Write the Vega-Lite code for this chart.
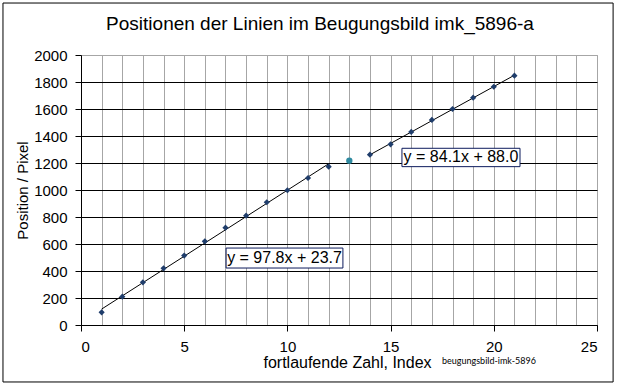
{
  "$schema": "https://vega.github.io/schema/vega-lite/v6.json",
  "width": 516,
  "height": 270,
  "autosize": "none",
  "padding": {"left": 81, "top": 55, "right": 20, "bottom": 62},
  "background": "white",
  "title": {
    "text": "Positionen der Linien im Beugungsbild imk_5896-a",
    "font": "Liberation Sans",
    "fontSize": 19,
    "fontWeight": "normal",
    "color": "black",
    "anchor": "middle",
    "frame": "group",
    "baseline": "alphabetic",
    "dx": -19,
    "offset": -46
  },
  "data": {
    "values": [
      {"idx": 1, "pos": 94, "series": "a"},
      {"idx": 2, "pos": 210, "series": "a"},
      {"idx": 3, "pos": 316, "series": "a"},
      {"idx": 4, "pos": 420, "series": "a"},
      {"idx": 5, "pos": 514, "series": "a"},
      {"idx": 6, "pos": 620, "series": "a"},
      {"idx": 7, "pos": 721, "series": "a"},
      {"idx": 8, "pos": 810, "series": "a"},
      {"idx": 9, "pos": 909, "series": "a"},
      {"idx": 10, "pos": 998, "series": "a"},
      {"idx": 11, "pos": 1089, "series": "a"},
      {"idx": 12, "pos": 1173, "series": "a"},
      {"idx": 13, "pos": 1217, "series": "m"},
      {"idx": 14, "pos": 1262, "series": "b"},
      {"idx": 15, "pos": 1338, "series": "b"},
      {"idx": 16, "pos": 1430, "series": "b"},
      {"idx": 17, "pos": 1519, "series": "b"},
      {"idx": 18, "pos": 1600, "series": "b"},
      {"idx": 19, "pos": 1684, "series": "b"},
      {"idx": 20, "pos": 1765, "series": "b"},
      {"idx": 21, "pos": 1847, "series": "b"}
    ]
  },
  "encoding": {
    "x": {
      "field": "idx",
      "type": "quantitative",
      "scale": {"domain": [0, 25], "nice": false, "zero": false},
      "axis": {
        "title": "fortlaufende Zahl, Index",
        "values": [0,1,2,3,4,5,6,7,8,9,10,11,12,13,14,15,16,17,18,19,20,21,22,23,24,25],
        "labelExpr": "datum.value % 5 === 0 ? datum.label : ''",
        "tickColor": {"condition": {"test": "datum.value % 5 === 0", "value": "black"}, "value": "transparent"},
        "grid": true,
        "gridColor": "#a6a6a6",
        "gridWidth": 1,
        "titleX": 266,
        "titleY": 42,
        "titleBaseline": "alphabetic",
        "titleFontSize": 16
      }
    },
    "y": {
      "field": "pos",
      "type": "quantitative",
      "scale": {"domain": [0, 2000], "nice": false},
      "axis": {
        "title": "Position / Pixel",
        "format": "d",
        "values": [0,200,400,600,800,1000,1200,1400,1600,1800,2000],
        "grid": true,
        "gridColor": {"condition": {"test": "datum.value === 2000", "value": "#a6a6a6"}, "value": "black"},
        "gridWidth": 1,
        "titleX": -59,
        "titleY": 135,
        "titleAngle": -90,
        "titleBaseline": "middle",
        "titleAlign": "center",
        "titleFontSize": 15
      }
    }
  },
  "layer": [
    {
      "transform": [
        {"filter": "datum.series !== 'm'"},
        {"regression": "pos", "on": "idx", "groupby": ["series"]}
      ],
      "mark": {"type": "line", "color": "black", "strokeWidth": 1},
      "encoding": {"detail": {"field": "series"}}
    },
    {
      "transform": [{"filter": "datum.series !== 'm'"}],
      "mark": {"type": "point", "shape": "diamond", "filled": true, "size": 38, "color": "#1f3d6b", "opacity": 1}
    },
    {
      "transform": [{"filter": "datum.series === 'm'"}],
      "mark": {"type": "point", "shape": "circle", "filled": true, "size": 40, "color": "#2e8aa0", "opacity": 1}
    },
    {
      "transform": [{"filter": "datum.idx === 1"}],
      "mark": {"type": "rect", "fill": "white", "stroke": "#0c1a5c", "strokeWidth": 1},
      "encoding": {
        "x": {"datum": 7.03, "type": "quantitative"},
        "x2": {"datum": 12.69},
        "y": {"datum": 570, "type": "quantitative"},
        "y2": {"datum": 422}
      }
    },
    {
      "transform": [{"filter": "datum.idx === 1"}],
      "mark": {"type": "text", "text": "y = 97.8x + 23.7", "font": "Liberation Sans", "fontSize": 16, "fontWeight": "normal", "align": "center", "baseline": "middle", "fill": "black"},
      "encoding": {
        "x": {"datum": 9.86, "type": "quantitative"},
        "y": {"datum": 496, "type": "quantitative"}
      }
    },
    {
      "transform": [{"filter": "datum.idx === 1"}],
      "mark": {"type": "rect", "fill": "white", "stroke": "#0c1a5c", "strokeWidth": 1},
      "encoding": {
        "x": {"datum": 15.55, "type": "quantitative"},
        "x2": {"datum": 21.27},
        "y": {"datum": 1309, "type": "quantitative"},
        "y2": {"datum": 1173}
      }
    },
    {
      "transform": [{"filter": "datum.idx === 1"}],
      "mark": {"type": "text", "text": "y = 84.1x + 88.0", "font": "Liberation Sans", "fontSize": 16, "fontWeight": "normal", "align": "center", "baseline": "middle", "fill": "black"},
      "encoding": {
        "x": {"datum": 18.41, "type": "quantitative"},
        "y": {"datum": 1241, "type": "quantitative"}
      }
    },
    {
      "transform": [{"filter": "datum.idx === 1"}],
      "mark": {"type": "text", "text": "beugungsbild-imk-5896", "font": "Lato", "fontSize": 9, "fontWeight": "normal", "align": "left", "baseline": "middle", "fill": "black"},
      "encoding": {
        "x": {"datum": 17.49, "type": "quantitative"},
        "y": {"datum": -267, "type": "quantitative"}
      }
    },
    {
      "transform": [{"filter": "datum.idx === 1"}],
      "mark": {"type": "rect", "fill": null, "fillOpacity": 0, "stroke": "black", "strokeWidth": 1},
      "encoding": {
        "x": {"datum": -3.78, "type": "quantitative"},
        "x2": {"datum": 25.78},
        "y": {"datum": 2385, "type": "quantitative"},
        "y2": {"datum": -422}
      }
    }
  ],
  "config": {
    "font": "Liberation Sans",
    "view": {"stroke": "#a6a6a6", "strokeWidth": 1},
    "axis": {
      "domainColor": "black",
      "domainWidth": 1,
      "tickColor": "black",
      "tickSize": 6,
      "tickWidth": 1,
      "labelFont": "Liberation Sans",
      "labelFontSize": 15,
      "labelColor": "black",
      "labelPadding": 8,
      "titleFont": "Liberation Sans",
      "titleFontWeight": "normal",
      "titleColor": "black",
      "zindex": 0
    }
  }
}
